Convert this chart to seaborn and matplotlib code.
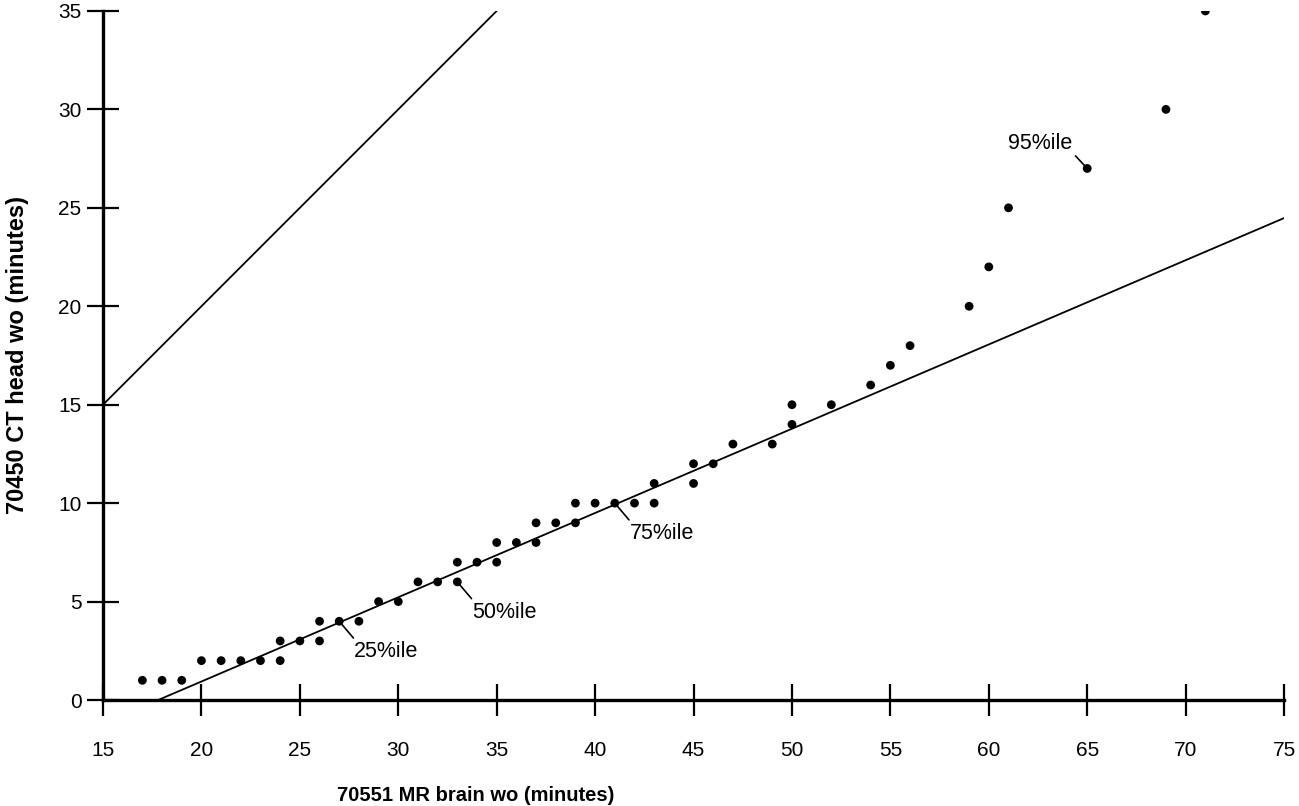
import pandas as pd
import seaborn as sns
import matplotlib.pyplot as plt
import numpy as np

# data
mr_brain = [17, 18, 19, 20, 21, 22, 23, 24, 24, 25, 26, 26, 27, 28, 29, 30,
            31, 32, 33, 33, 34, 35, 35, 36, 37, 37, 38, 39, 39, 40, 41, 42,
            43, 43, 45, 45, 46, 47, 49, 50, 50, 52, 54, 55, 56, 59, 60, 61,
            65, 69, 71]
ct_head = [1, 1, 1, 2, 2, 2, 2, 2, 3, 3, 3, 4, 4, 4, 5, 5,
           6, 6, 6, 7, 7, 7, 8, 8, 8, 9, 9, 9, 10, 10, 10, 10,
           10, 11, 11, 12, 12, 13, 13, 14, 15, 15, 16, 17, 18, 20, 22, 25,
           27, 30, 35]

# fitted line and identity line
fit_slope = 0.428
fit_intercept = -7.62
fit_x = [17.8, 75]
ident_x = [15, 35]

# percentile labels
pct_labels = ["25%ile", "50%ile", "75%ile", "95%ile"]
pct_x = [27, 33, 41, 65]
pct_y = [4, 6, 10, 27]

df = pd.DataFrame({"mr": mr_brain, "ct": ct_head})
fit_df = pd.DataFrame({"x": fit_x, "y": [fit_slope * v + fit_intercept for v in fit_x]})
ident_df = pd.DataFrame({"x": ident_x, "y": ident_x})

sns.set_style("ticks")
plt.rcParams["font.family"] = ["Liberation Sans", "DejaVu Sans"]
plt.rcParams["text.color"] = "black"
plt.rcParams["xtick.color"] = "black"
plt.rcParams["ytick.color"] = "black"
plt.rcParams["axes.labelcolor"] = "black"

fig = plt.figure(figsize=(12.99, 8.06), dpi=100)
ax = fig.add_axes([0.0793, 0.1315, 0.9092, 0.8549])

sns.lineplot(data=ident_df, x="x", y="y", color="black", linewidth=1.3, ax=ax)
sns.lineplot(data=fit_df, x="x", y="y", color="black", linewidth=1.3, ax=ax)
sns.scatterplot(data=df, x="mr", y="ct", color="black", s=40, edgecolor="none", ax=ax, zorder=3)

# percentile annotations with short leader lines
text_pos = [(15, -20), (15, -20), (15, -20), (-15, 14)]
for lab, px, py, (tx, ty) in zip(pct_labels, pct_x, pct_y, text_pos):
    if tx > 0:
        ax.annotate(lab, xy=(px, py), xytext=(tx, ty), textcoords="offset pixels",
                    ha="left", va="top", fontsize=15.5,
                    arrowprops=dict(arrowstyle="-", color="black", lw=1.2,
                                    shrinkA=0, shrinkB=2, relpos=(0.03, 1)))
    else:
        ax.annotate(lab, xy=(px, py), xytext=(tx, ty), textcoords="offset pixels",
                    ha="right", va="bottom", fontsize=15.5,
                    arrowprops=dict(arrowstyle="-", color="black", lw=1.2,
                                    shrinkA=0, shrinkB=2, relpos=(1, 0.1)))

ax.set_xlim(15, 75)
ax.set_ylim(0, 35)
ax.set_xticks(np.arange(15, 76, 5))
ax.set_yticks(np.arange(0, 36, 5))
ax.tick_params(direction="inout", length=23, width=1.6, labelsize=15, pad=4)
ax.tick_params(axis="x", pad=18)

for side in ["top", "right"]:
    ax.spines[side].set_visible(False)
for side in ["left", "bottom"]:
    ax.spines[side].set_linewidth(2.4)
    ax.spines[side].set_color("black")

ax.set_xlabel("70551 MR brain wo (minutes)", fontsize=14.5, fontweight="bold")
ax.set_ylabel("70450 CT head wo (minutes)", fontsize=17, fontweight="bold")
ax.xaxis.set_label_coords((476 - 103) / 1181, -0.125)
ax.yaxis.set_label_coords(-0.063, 0.5)

fig.savefig("out.png", dpi=100)
